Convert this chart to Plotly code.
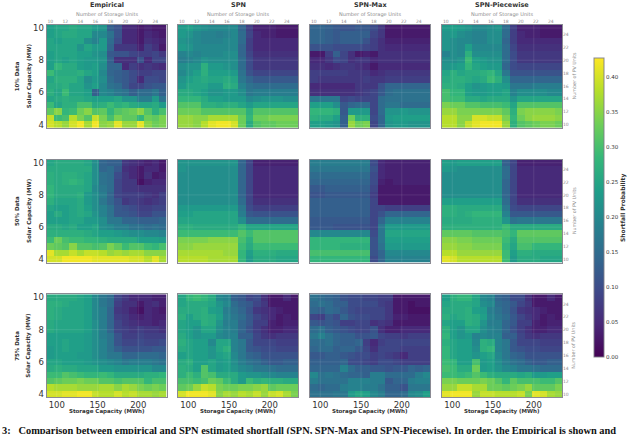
import numpy as np
import plotly.graph_objects as go

# Data, percent shortfall per cell. Rows go top (25 PV units) to bottom (10 PV units)
emp_10 = [
    [24,25,25,26,25,25,23,22,13,11,5,5,3,4,3,3],
    [24,25,26,26,25,25,20,20,16,11,5,5,3,5,4,3],
    [25,24,25,25,25,21,19,23,15,10,5,5,3,6,5,4],
    [25,25,25,25,22,25,23,23,14,7,7,7,4,8,6,3],
    [24,25,25,25,24,24,22,21,12,11,11,9,8,8,9,7],
    [24,25,24,25,24,23,23,22,13,6,6,6,11,5,9,9],
    [24,28,26,26,24,23,24,21,14,14,5,8,6,7,6,5],
    [29,26,26,26,27,25,24,20,14,13,12,10,8,8,9,9],
    [25,27,27,27,25,21,23,21,15,13,12,10,5,10,10,9],
    [26,26,27,25,25,22,24,20,16,15,12,9,9,11,12,12],
    [27,25,29,25,25,24,13,20,19,17,16,13,15,15,17,13],
    [25,26,27,26,26,25,24,24,24,25,22,22,18,18,23,16],
    [29,25,27,27,30,30,26,27,29,27,28,26,25,25,26,23],
    [32,35,28,29,33,35,31,32,28,31,32,33,35,31,27,30],
    [39,29,30,38,34,31,39,34,30,34,32,32,28,33,32,34],
    [40,38,36,40,42,37,42,35,36,41,36,36,41,35,33,34],
]
spn_10 = [
    [23,24,22,21,20,20,20,20,14,8,4,4,4,3,3,3],
    [23,22,20,19,19,18,19,20,15,9,5,4,4,3,3,3],
    [22,21,20,19,19,19,20,20,15,8,5,5,5,5,5,5],
    [23,22,20,20,20,20,20,20,14,8,5,5,5,5,5,5],
    [19,20,19,20,20,20,21,21,14,9,6,6,6,6,6,6],
    [18,19,20,22,21,21,21,21,15,10,7,7,7,7,7,7],
    [21,22,22,27,23,23,22,21,15,10,7,7,7,7,7,7],
    [20,22,24,27,24,24,24,23,16,11,9,9,9,9,9,9],
    [22,24,25,26,25,25,26,25,17,14,12,12,12,12,12,12],
    [23,25,25,25,23,23,27,26,19,16,15,15,15,15,15,15],
    [26,26,25,24,22,22,23,23,21,17,18,18,18,18,18,18],
    [28,28,28,26,24,24,23,23,23,20,21,22,22,22,21,21],
    [31,31,31,27,27,26,27,27,25,23,25,25,25,25,25,25],
    [33,33,33,31,31,31,31,31,31,27,31,31,31,31,31,31],
    [36,36,35,35,37,37,37,37,33,28,33,33,34,34,34,34],
    [36,36,35,38,41,42,42,40,33,26,31,32,32,33,33,33],
]
max_10 = [
    [14,14,13,12,11,11,12,12,10,7,3,3,3,3,3,3],
    [14,14,13,12,13,13,13,13,9,7,3,3,3,3,3,3],
    [14,14,13,12,13,13,13,11,8,6,4,4,4,4,4,4],
    [11,11,11,10,10,10,10,9,8,6,5,5,5,5,5,5],
    [3,3,8,13,9,6,3,4,3,6,6,6,6,6,6,6],
    [5,5,7,10,9,6,7,7,5,6,6,6,6,6,6,6],
    [6,6,5,6,7,7,6,5,3,5,5,5,5,5,5,5],
    [8,8,8,8,8,7,7,7,5,6,7,7,7,7,7,7],
    [8,7,7,7,7,7,7,8,7,7,8,8,8,8,8,8],
    [5,5,5,5,5,5,7,7,7,11,14,14,14,14,14,14],
    [6,6,6,6,6,6,7,8,9,12,15,16,16,16,16,16],
    [17,17,17,17,9,10,9,9,9,15,16,16,16,16,16,16],
    [24,24,24,21,12,14,15,15,9,15,17,17,15,15,15,15],
    [28,28,28,27,12,23,23,23,9,15,22,22,23,22,22,22],
    [27,26,26,24,13,33,27,27,10,14,23,24,24,24,24,24],
    [24,24,23,22,13,36,33,34,9,14,22,23,23,22,22,22],
]
pw_10 = [
    [23,24,23,22,20,20,21,22,15,8,4,4,4,3,3,3],
    [22,23,21,20,19,19,21,21,15,8,5,4,4,3,3,3],
    [22,21,20,20,19,19,21,21,14,8,5,5,5,5,5,5],
    [22,21,20,24,20,20,20,20,15,9,6,6,6,6,6,6],
    [19,21,20,27,21,21,21,21,15,10,7,7,7,7,7,7],
    [21,21,22,29,24,23,22,22,15,10,7,7,7,7,7,7],
    [22,23,24,28,25,24,23,23,14,10,9,9,9,9,9,9],
    [25,27,25,26,26,27,28,25,17,11,11,11,11,11,11,11],
    [26,27,27,26,25,26,29,27,21,14,14,14,14,14,14,14],
    [27,27,26,24,22,23,24,24,23,17,17,17,18,18,18,18],
    [30,28,28,24,23,23,24,24,25,19,21,21,21,21,20,20],
    [30,29,29,26,26,25,26,26,26,22,25,25,25,25,25,25],
    [34,33,33,31,31,30,30,30,29,25,31,31,31,31,31,31],
    [36,36,34,34,34,34,34,34,32,27,34,35,35,35,35,34],
    [38,38,35,35,40,40,39,39,34,28,33,35,36,36,36,35],
    [38,38,35,39,41,42,42,42,36,27,31,32,33,34,34,33],
]
emp_50 = [
    [25,26,26,26,26,25,21,14,13,13,7,6,5,4,5,3],
    [26,26,26,26,26,26,21,14,15,12,6,5,3,5,5,3],
    [27,26,27,27,26,25,21,16,15,10,7,5,3,6,3,4],
    [27,26,27,28,27,25,21,16,15,9,7,7,2,4,5,5],
    [28,26,26,26,26,25,20,17,15,9,7,7,6,6,6,6],
    [28,26,26,26,27,23,21,18,14,9,8,8,8,7,6,8],
    [27,25,25,25,26,23,21,17,14,11,7,8,7,6,7,8],
    [25,24,24,25,26,24,21,19,16,12,11,10,8,8,9,9],
    [24,26,24,25,26,25,22,19,16,12,12,11,9,9,11,11],
    [24,24,24,25,25,23,23,21,17,17,14,14,13,13,13,14],
    [26,26,25,26,24,24,25,21,20,18,18,16,16,15,16,15],
    [27,27,27,27,27,26,25,24,24,23,22,21,21,20,20,19],
    [29,33,30,29,29,28,28,27,26,26,26,26,24,24,24,23],
    [33,32,31,35,31,31,30,31,34,32,29,31,31,29,28,30],
    [41,37,37,39,37,39,39,38,36,37,36,37,37,35,35,35],
    [40,40,42,42,42,42,41,41,41,41,41,40,40,38,41,37],
]
spn_50 = [
    [22,22,22,22,22,22,22,22,14,9,4,4,4,4,4,4],
    [22,21,21,21,21,21,21,21,14,9,5,5,5,5,5,5],
    [21,21,21,21,21,21,21,21,14,9,5,5,5,5,5,5],
    [21,21,21,21,21,21,21,21,14,9,5,5,5,5,5,5],
    [21,21,21,21,21,21,21,21,14,9,5,5,5,5,5,5],
    [21,21,21,21,21,21,21,21,14,9,5,5,5,5,5,5],
    [21,21,21,21,21,21,21,21,15,9,6,6,6,6,6,6],
    [23,23,23,23,23,23,23,23,17,10,8,8,8,8,8,8],
    [24,24,25,25,25,25,25,25,18,12,11,11,11,11,11,11],
    [25,25,25,25,25,25,25,25,21,15,15,15,15,15,15,15],
    [27,27,26,26,26,26,26,26,28,25,25,25,25,25,25,25],
    [29,29,29,29,29,29,29,29,31,29,31,31,31,31,31,31],
    [34,34,34,34,35,35,35,35,30,27,31,31,31,31,31,31],
    [35,35,36,36,36,36,36,36,29,26,29,29,29,29,29,29],
    [37,37,37,37,37,37,36,36,28,24,27,27,27,26,26,26],
    [38,38,38,38,37,37,37,37,28,23,26,26,26,25,25,25],
]
max_50 = [
    [18,18,18,18,18,18,18,18,10,5,4,4,4,4,4,4],
    [17,17,17,17,17,17,17,17,11,5,4,4,4,4,4,4],
    [15,15,15,15,15,15,15,15,10,5,4,4,4,4,4,4],
    [14,14,14,14,14,14,14,14,10,4,3,4,4,4,4,4],
    [12,12,13,13,13,13,13,13,9,3,3,3,3,3,3,3],
    [11,11,12,12,12,12,12,12,8,3,3,3,3,3,3,3],
    [13,13,13,13,13,13,13,13,9,3,3,3,3,3,3,3],
    [13,13,13,13,13,13,13,13,9,9,8,8,8,8,8,8],
    [13,13,13,13,13,13,13,13,9,11,14,14,14,14,14,14],
    [12,12,12,12,12,12,12,12,9,14,19,19,19,19,19,19],
    [12,12,12,11,11,11,11,11,9,17,23,23,23,23,23,23],
    [20,20,20,20,20,20,20,20,10,17,25,25,25,25,25,25],
    [28,28,28,28,28,28,28,28,11,17,24,24,24,24,24,24],
    [28,28,28,28,27,27,27,27,11,16,23,23,23,23,23,23],
    [30,30,30,30,30,30,30,30,11,14,20,20,20,20,20,20],
    [28,28,28,28,28,28,28,28,10,14,19,19,19,19,19,19],
]
pw_50 = [
    [24,23,24,24,24,24,24,24,13,9,4,4,4,4,4,4],
    [23,22,21,21,21,21,21,21,15,9,5,5,5,5,5,5],
    [21,21,21,21,21,21,21,21,15,9,5,5,5,5,5,5],
    [21,21,21,21,21,21,21,21,14,9,5,5,5,5,5,5],
    [21,21,21,21,21,21,21,21,14,9,5,5,5,5,5,5],
    [21,21,21,21,21,21,21,21,14,9,5,5,5,5,5,5],
    [24,24,24,24,24,24,24,24,15,9,6,6,6,6,6,6],
    [27,27,26,26,26,26,26,26,17,10,9,9,9,9,9,9],
    [27,27,26,27,28,28,28,28,19,12,12,12,12,12,12,12],
    [26,26,26,26,27,27,27,27,22,16,17,17,17,17,17,17],
    [27,27,27,27,27,27,27,27,29,26,26,26,26,26,26,26],
    [32,32,32,32,31,31,31,31,30,28,32,32,32,32,32,32],
    [35,35,34,34,33,33,33,33,29,26,31,31,31,31,31,31],
    [36,36,35,35,34,34,34,34,28,25,30,30,28,28,28,28],
    [38,38,36,36,36,36,36,36,29,24,27,27,26,26,26,26],
    [41,40,38,38,38,38,38,38,29,23,26,26,26,25,25,25],
]
emp_75 = [
    [26,26,26,26,25,24,20,17,15,9,7,5,5,5,4,4],
    [27,27,26,25,25,24,20,17,15,8,6,6,3,5,6,4],
    [27,26,25,25,25,24,20,18,14,7,6,4,2,5,4,3],
    [27,26,25,25,25,24,20,18,14,8,7,5,4,5,4,4],
    [26,25,25,25,25,24,21,18,14,9,7,6,5,5,4,5],
    [26,25,25,25,25,24,21,18,14,9,8,7,8,7,7,6],
    [24,24,24,24,24,23,21,18,16,11,8,8,9,8,8,8],
    [24,24,25,24,24,23,21,19,16,11,9,9,10,9,9,10],
    [23,24,25,24,24,23,21,19,16,13,11,11,11,11,12,12],
    [23,24,24,24,23,23,21,19,17,17,14,14,15,15,15,14],
    [25,25,24,24,24,23,22,21,20,19,17,18,18,18,17,16],
    [26,27,26,26,25,25,25,23,23,22,22,22,22,22,20,20],
    [29,29,31,30,29,28,28,29,28,26,26,26,26,27,27,28],
    [31,32,33,33,34,33,33,31,31,30,31,31,31,28,30,30],
    [38,37,37,37,36,36,36,37,37,35,37,36,34,33,34,33],
    [40,40,41,41,42,42,39,38,38,40,38,39,37,37,36,37],
]
spn_75 = [
    [25,28,29,28,26,20,19,13,12,9,10,6,3,3,5,3],
    [25,26,26,26,25,22,20,15,13,12,9,7,3,3,3,3],
    [26,26,26,27,24,23,18,16,14,11,7,6,5,4,3,3],
    [27,24,26,27,26,24,19,17,15,12,9,7,5,3,4,3],
    [25,24,24,27,26,22,18,18,14,12,8,8,4,3,4,4],
    [25,24,22,25,25,21,19,18,14,11,8,6,4,4,5,5],
    [26,24,22,23,23,20,19,19,13,13,9,7,6,7,7,7],
    [27,25,24,24,20,25,25,19,17,12,9,9,9,8,8,8],
    [26,25,24,24,22,25,27,19,17,12,11,10,10,9,9,9],
    [24,25,24,24,22,24,25,20,17,14,13,11,11,11,11,11],
    [26,27,24,24,25,23,24,21,18,16,15,13,12,12,13,13],
    [27,26,24,31,25,23,24,22,20,19,17,17,16,15,15,15],
    [27,29,27,31,30,26,26,26,23,22,22,21,20,19,19,19],
    [30,30,29,30,33,32,29,26,23,29,27,28,27,27,26,26],
    [32,33,36,39,38,34,33,33,34,34,35,36,32,33,33,33],
    [40,42,42,42,41,35,37,36,38,37,39,36,39,40,37,34],
]
max_75 = [
    [16,15,14,13,11,10,10,9,9,8,8,3,3,3,3,3],
    [15,16,15,13,13,10,10,10,10,8,7,3,3,2,3,3],
    [14,13,15,14,12,10,9,9,9,9,7,3,3,2,2,2],
    [9,8,12,10,14,11,10,10,9,9,7,4,4,3,3,3],
    [12,11,12,11,8,8,9,9,6,7,6,3,3,3,3,3],
    [15,16,13,12,11,10,9,9,11,6,4,4,5,5,5,5],
    [17,19,16,14,13,13,11,11,12,9,8,8,7,8,8,8],
    [15,15,16,14,13,13,14,8,5,8,9,9,9,9,9,9],
    [14,15,15,13,14,14,12,9,6,9,9,9,8,8,8,8],
    [12,12,13,13,12,11,10,10,8,9,8,7,5,8,8,8],
    [13,13,13,13,14,10,10,9,8,10,10,9,8,8,8,8],
    [14,14,14,14,19,15,13,13,12,12,11,12,12,14,13,14],
    [20,16,17,16,15,14,14,13,18,18,15,15,15,15,18,20],
    [18,16,16,16,16,19,19,19,18,18,12,14,14,18,19,19],
    [15,14,15,15,18,19,19,18,18,16,13,13,11,17,17,17],
    [16,16,16,17,17,23,25,24,20,18,14,14,15,20,21,24],
]
pw_75 = [
    [24,27,28,28,25,20,19,14,13,10,10,6,3,3,5,3],
    [25,26,26,26,25,21,20,15,14,12,9,7,3,3,3,3],
    [26,26,26,27,24,23,18,16,14,11,7,6,5,4,3,3],
    [27,25,26,27,26,24,19,17,15,12,9,7,5,3,4,3],
    [25,24,24,27,26,22,18,18,14,12,8,8,4,3,4,4],
    [27,24,22,25,25,21,19,18,14,11,8,6,4,4,5,5],
    [28,24,22,23,19,20,19,19,13,13,9,7,6,7,7,7],
    [27,25,24,24,20,27,26,19,17,12,9,9,9,8,8,8],
    [28,25,24,24,21,27,28,19,17,12,11,10,10,9,9,9],
    [28,25,24,24,22,24,25,20,17,14,13,11,11,11,11,11],
    [29,28,24,24,30,23,24,21,18,16,15,13,12,12,13,13],
    [30,29,26,26,33,23,24,22,20,19,17,17,16,15,15,15],
    [29,29,28,29,31,29,27,26,26,26,25,26,23,23,24,24],
    [34,34,33,33,33,34,33,31,28,32,30,30,30,29,29,31],
    [36,36,39,39,37,37,33,33,32,33,34,36,32,32,32,34],
    [41,42,42,42,36,39,39,38,38,38,39,34,41,40,37,36],
]

methods = ["Empirical", "SPN", "SPN-Max", "SPN-Piecewise"]
row_names = ["10% Data", "50% Data", "75% Data"]
grids = [
    [emp_10, spn_10, max_10, pw_10],
    [emp_50, spn_50, max_50, pw_50],
    [emp_75, spn_75, max_75, pw_75],
]
units = list(range(10, 26))
unit_ticks = [10, 12, 14, 16, 18, 20, 22, 24]
storage_ticks = [100, 150, 200]
solar_ticks = [4, 6, 8, 10]
prob_ticks = [0.0, 0.05, 0.1, 0.15, 0.2, 0.25, 0.3, 0.35, 0.4]
MWH_PER_UNIT = 9.2
MW_PER_UNIT = 0.4

# Settings
W, H = 640, 434
Panel_Lefts = [46.5, 178, 310, 442]
Panel_Tops = [23, 159, 295]
Panel_W, Panel_H = 120, 104
Frame = "rgba(125,125,135,0.9)"
Grey = "#8c8c8c"
Dark = "#333333"
Font = "DejaVu Sans"

storage = [u * MWH_PER_UNIT for u in units]
solar = [u * MW_PER_UNIT for u in units]
x_range = [9.5 * MWH_PER_UNIT, 25.5 * MWH_PER_UNIT]
y_range = [9.5 * MW_PER_UNIT, 25.5 * MW_PER_UNIT]


def text(x, y, s, size, color=Dark, weight="bold", angle=0):
    return dict(text=s, x=x / W, y=1 - y / H, xref="paper", yref="paper", showarrow=False, textangle=angle,
                font=dict(family=Font, size=size, color=color, weight=weight), xanchor="center", yanchor="middle")


fig = go.Figure()
layout = dict(width=W, height=H, margin=dict(l=0, r=0, t=0, b=0), paper_bgcolor="white", plot_bgcolor="white",
              showlegend=False, autosize=False)
annotations = []
shapes = []
n = 0
for r, row in enumerate(grids):
    top = Panel_Tops[r]
    for c, grid in enumerate(row):
        left = Panel_Lefts[c]
        n += 1
        xa, ya = "x" + str(n), "y" + str(n)
        xdom = [left / W, (left + Panel_W) / W]
        ydom = [1 - (top + Panel_H) / H, 1 - top / H]
        z = (np.array(grid, dtype=float) / 100)[::-1]
        fig.add_trace(go.Heatmap(z=z, x=storage, y=solar, xaxis=xa, yaxis=ya, coloraxis="coloraxis"))
        layout["xaxis" + str(n)] = dict(domain=xdom, anchor=ya, range=x_range, tickvals=storage_ticks if r == 2 else [],
                                        showgrid=False, zeroline=False, ticks="", showline=True, mirror=True,
                                        ticklabelstandoff=-1, linecolor=Frame, linewidth=1,
                                        tickfont=dict(family=Font, size=8.5, color=Dark))
        layout["yaxis" + str(n)] = dict(domain=ydom, anchor=xa, range=y_range, tickvals=solar_ticks if c == 0 else [],
                                        showgrid=False, zeroline=False, ticks="", showline=True, mirror=True,
                                        linecolor=Frame, linewidth=1, tickfont=dict(family=Font, size=8.5, color=Dark))
        # faint grid lines over the cells, as in the reference
        for t in storage_ticks:
            shapes.append(dict(type="line", xref=xa, yref=ya, x0=t, x1=t, y0=y_range[0], y1=y_range[1],
                               line=dict(color="rgba(255,255,255,0.1)", width=1)))
        for t in solar_ticks:
            shapes.append(dict(type="line", xref=xa, yref=ya, y0=t, y1=t, x0=x_range[0], x1=x_range[1],
                               line=dict(color="rgba(255,255,255,0.1)", width=1)))
        if r == 0:
            # top axis in storage units, needs a hidden trace to show up
            xt = "x" + str(n + 20)
            fig.add_trace(go.Scatter(x=units, y=solar, xaxis=xt, yaxis=ya, mode="markers", marker=dict(opacity=0),
                                     hoverinfo="skip"))
            layout["xaxis" + str(n + 20)] = dict(domain=xdom, anchor=ya, overlaying=xa, side="top", range=[9.5, 25.5],
                                                 tickvals=unit_ticks, showgrid=False, zeroline=False, ticks="",
                                                 tickfont=dict(family=Font, size=4.5, color=Grey))
            annotations.append(text(left + Panel_W / 2, 3.5, methods[c], 6.5, Dark))
            annotations.append(text(left + Panel_W / 2, 12.7, "Number of Storage Units", 5, Grey, "normal"))
        if c == 3:
            yt = "y" + str(n + 40)
            fig.add_trace(go.Scatter(x=storage, y=units, xaxis=xa, yaxis=yt, mode="markers", marker=dict(opacity=0),
                                     hoverinfo="skip"))
            layout["yaxis" + str(n + 40)] = dict(domain=ydom, anchor=xa, overlaying=ya, side="right", range=[9.5, 25.5],
                                                 tickvals=unit_ticks, showgrid=False, zeroline=False, ticks="",
                                                 tickfont=dict(family=Font, size=4.5, color=Grey))
            annotations.append(text(574, top + 52, "Number of PV Units", 4.8, Grey, "normal", -90))
        if c == 0:
            annotations.append(text(17, top + 52, row_names[r], 5.5, Dark, "bold", -90))
            annotations.append(text(29, top + 52, "Solar Capacity (MW)", 5.6, Dark, "bold", -90))
        if r == 2:
            annotations.append(text(left + Panel_W / 2, 413.5, "Storage Capacity (MWh)", 5.5, Dark))

annotations.append(text(623, 208, "Shortfall Probability", 6, Dark, "bold", -90))
annotations.append(dict(text="<b>3:   Comparison between empirical and SPN estimated shortfall (SPN, SPN-Max and SPN-Piecewise). In order, the Empirical is shown and</b>",
                        x=0, y=1 - 433 / H, xref="paper", yref="paper", xanchor="left", yanchor="middle", showarrow=False,
                        font=dict(family="Liberation Serif", size=10.4, color="#111111")))

layout["annotations"] = annotations
layout["shapes"] = shapes
layout["coloraxis"] = dict(colorscale="Viridis", cmin=0, cmax=0.427,
                           colorbar=dict(x=594 / W, xanchor="left", xref="paper", y=1 - 57 / H, yanchor="top",
                                         len=302 / H, lenmode="fraction", thickness=10, thicknessmode="pixels",
                                         outlinecolor=Frame, outlinewidth=1, tickvals=prob_ticks, tickformat=".2f",
                                         ticks="", tickfont=dict(family=Font, size=5.5, color=Dark), xpad=0, ypad=0))
fig.update_layout(**layout)
# the page's default 8px body margin would shift the whole figure
fig.write_html("out.html", config={"displayModeBar": False},
               post_script="document.body.style.margin='0';document.body.style.overflow='hidden';")
